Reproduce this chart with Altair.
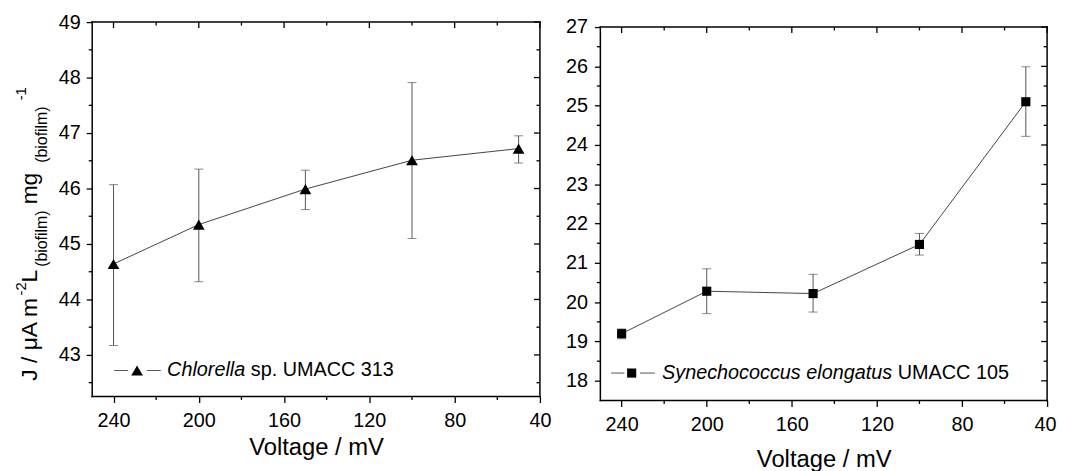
import altair as alt
import pandas as pd

# ---------------- data ----------------
voltage = [240, 200, 150, 100, 50]

chlorella_j = [44.64, 45.35, 45.99, 46.51, 46.72]
chlorella_lo = [43.17, 44.32, 45.62, 45.10, 46.46]
chlorella_hi = [46.07, 46.35, 46.33, 47.91, 46.95]

synecho_j = [19.20, 20.28, 20.22, 21.47, 25.10]
synecho_lo = [19.07, 19.71, 19.75, 21.20, 24.22]
synecho_hi = [19.32, 20.85, 20.71, 21.75, 25.99]

x_domain = [250, 40]
x_ticks = [240, 200, 160, 120, 80, 40]
x_minor = [220, 180, 140, 100, 60]

chl_domain = [42.25, 49]
chl_ticks = [43, 44, 45, 46, 47, 48, 49]
chl_minor = [42.5, 43.5, 44.5, 45.5, 46.5, 47.5, 48.5]

syn_domain = [17.5, 27]
syn_ticks = [18, 19, 20, 21, 22, 23, 24, 25, 26, 27]
syn_minor = [18.5, 19.5, 20.5, 21.5, 22.5, 23.5, 24.5, 25.5, 26.5]

x_title = "Voltage / mV"
chl_legend_italic = "Chlorella"
chl_legend_rest = "sp. UMACC 313"
syn_legend_italic = "Synechococcus elongatus"
syn_legend_rest = "UMACC 105"
y_title_parts = ["J / μA m", "-2", "L", "(biofilm)", "mg", "(biofilm)", "-1"]

FONT = "Liberation Sans"
one = alt.Chart(pd.DataFrame({"k": [0]}))
TICK_W = 1.3
FRAME_W = 1.5


def panel(j, lo, hi, y_domain, y_ticks, y_minor, shape, msize, w, h, top,
          title_pad, ylab_pad, x_label_offset, legend, extra):
    """top = pixel offset of the frame top inside the view (used to lower a panel)."""
    df = pd.DataFrame({"V": voltage, "J": j, "lo": lo, "hi": hi})
    xs = alt.Scale(domain=x_domain, nice=False, zero=False)
    ys = alt.Scale(domain=y_domain, nice=False, zero=False, range=[h, top])
    base = alt.Chart(df)

    x_kw = dict(orient="bottom", values=x_ticks, tickSize=6, tickWidth=TICK_W, tickColor="black",
                domain=False, grid=False, labelFontSize=20, labelColor="black", labelPadding=8,
                labelFlush=False, labelOverlap=False, format="d", labelFont=FONT,
                title=x_title, titleFontSize=24, titleFontWeight="normal", titleColor="black",
                titlePadding=title_pad, titleFont=FONT)
    if x_label_offset is not None:
        x_kw.update(labelOffset=x_label_offset)
    y_kw = dict(orient="left", values=y_ticks, tickSize=6, tickWidth=TICK_W, tickColor="black",
                domain=False, grid=False, labelFontSize=20, labelColor="black",
                labelPadding=ylab_pad, labelFlush=False, labelOverlap=False, format="d",
                labelFont=FONT, title=None)

    axis_layer = base.mark_point(opacity=0).encode(
        x=alt.X("V:Q", scale=xs, axis=alt.Axis(**x_kw)),
        y=alt.Y("J:Q", scale=ys, axis=alt.Axis(**y_kw)))

    # frame
    fk = dict(color="black", strokeWidth=FRAME_W, strokeCap="square")
    frame = [
        one.mark_rule(**fk).encode(x=alt.value(0), x2=alt.value(w), y=alt.value(top)),
        one.mark_rule(**fk).encode(x=alt.value(0), x2=alt.value(w), y=alt.value(h)),
        one.mark_rule(**fk).encode(x=alt.value(0), y=alt.value(top), y2=alt.value(h)),
        one.mark_rule(**fk).encode(x=alt.value(w), y=alt.value(top), y2=alt.value(h)),
    ]

    # minor ticks and mirrored (inward) ticks on top / right, from the tick arrays
    txd = alt.Chart(pd.DataFrame({"t": x_ticks}))
    txm = alt.Chart(pd.DataFrame({"t": x_minor}))
    tyd = alt.Chart(pd.DataFrame({"t": y_ticks}))
    tym = alt.Chart(pd.DataFrame({"t": y_minor}))
    xt = alt.X("t:Q", scale=xs, axis=None)
    yt = alt.Y("t:Q", scale=ys, axis=None)
    rk = dict(color="black", strokeWidth=TICK_W)
    tick_layers = [
        txd.mark_rule(**rk).encode(x=xt, y=alt.value(top), y2=alt.value(top + 6)),
        txm.mark_rule(**rk).encode(x=xt, y=alt.value(top), y2=alt.value(top + 3.5)),
        txm.mark_rule(**rk).encode(x=xt, y=alt.value(h), y2=alt.value(h + 3.5)),
        tyd.mark_rule(**rk).encode(y=yt, x=alt.value(w - 6), x2=alt.value(w)),
        tym.mark_rule(**rk).encode(y=yt, x=alt.value(w - 3.5), x2=alt.value(w)),
        tym.mark_rule(**rk).encode(y=yt, x=alt.value(-3.5), x2=alt.value(0)),
    ]

    xp = alt.X("V:Q", scale=xs, axis=None)
    bars = base.mark_rule(color="#555555", strokeWidth=1).encode(
        x=xp, y=alt.Y("lo:Q", scale=ys, axis=None), y2="hi:Q")
    cap_lo = base.mark_tick(orient="horizontal", size=9, thickness=1, color="#555555").encode(
        x=xp, y=alt.Y("lo:Q", scale=ys, axis=None))
    cap_hi = base.mark_tick(orient="horizontal", size=9, thickness=1, color="#555555").encode(
        x=xp, y=alt.Y("hi:Q", scale=ys, axis=None))
    line = base.mark_line(color="#444444", strokeWidth=1).encode(
        x=xp, y=alt.Y("J:Q", scale=ys, axis=None))
    pts = base.mark_point(shape=shape, filled=True, color="black", opacity=1, size=msize).encode(
        x=xp, y=alt.Y("J:Q", scale=ys, axis=None))

    (s1a, s1b, mx, s2a, s2b, ly, tx, tx2, italic, rest) = legend
    leg = [
        one.mark_rule(color="#555555", strokeWidth=1).encode(
            x=alt.value(s1a), x2=alt.value(s1b), y=alt.value(ly)),
        one.mark_rule(color="#555555", strokeWidth=1).encode(
            x=alt.value(s2a), x2=alt.value(s2b), y=alt.value(ly)),
        one.mark_point(shape=shape, filled=True, color="black", opacity=1, size=msize).encode(
            x=alt.value(mx), y=alt.value(ly)),
        one.mark_text(text=italic, fontStyle="italic", fontSize=20, font=FONT, align="left",
                      baseline="middle", color="black").encode(x=alt.value(tx), y=alt.value(ly)),
        one.mark_text(text=rest, fontSize=20, font=FONT, align="left",
                      baseline="middle", color="black").encode(x=alt.value(tx2), y=alt.value(ly)),
    ]

    return alt.layer(axis_layer, *frame, *tick_layers, bars, cap_lo, cap_hi, line, pts, *leg,
                     *extra).resolve_axis(x="independent", y="independent").properties(
        width=w, height=h)


# y-axis title of the left panel, built from pieces (sub/superscripts)
# (text, font size, baseline x, start y) relative to the left plot origin
title_specs = [
    (y_title_parts[0], 23, -55.7, 362),
    (y_title_parts[1], 15, -66.5, 276),
    (y_title_parts[2], 23, -55.7, 263),
    (y_title_parts[3], 16, -46.0, 247),
    (y_title_parts[4], 23, -55.7, 184),
    (y_title_parts[5], 16, -46.0, 142),
    (y_title_parts[6], 15, -66.5, 79),
]
ytitle = [
    one.mark_text(text=t, fontSize=fs, font=FONT, angle=270, align="left",
                  baseline="alphabetic", color="black").encode(x=alt.value(xx), y=alt.value(yy))
    for t, fs, xx, yy in title_specs
]

left = panel(chlorella_j, chlorella_lo, chlorella_hi, chl_domain, chl_ticks, chl_minor,
             "triangle-up", 140, 452, 378, 0, 6, 6, None,
             (22.3, 36.3, 45.3, 55.3, 69.3, 351.7, 75.6, 160.1, chl_legend_italic, chl_legend_rest),
             ytitle)

right = panel(synecho_j, synecho_lo, synecho_hi, syn_domain, syn_ticks, syn_minor,
              "square", 85, 451, 382, 5, 14, 7,
              alt.condition("datum.value == 40", alt.value(-2), alt.value(0)),
              (11.0, 24.3, 31.6, 40.0, 55.0, 354.3, 62.3, 300.3, syn_legend_italic, syn_legend_rest),
              [])

chart = alt.hconcat(left, right, spacing=13).properties(
    padding={"left": 6, "top": 2, "right": 0, "bottom": 4}
).configure(font=FONT).configure_view(strokeWidth=0)

chart.save("out.html", embed_options={"renderer": "svg", "actions": False})
